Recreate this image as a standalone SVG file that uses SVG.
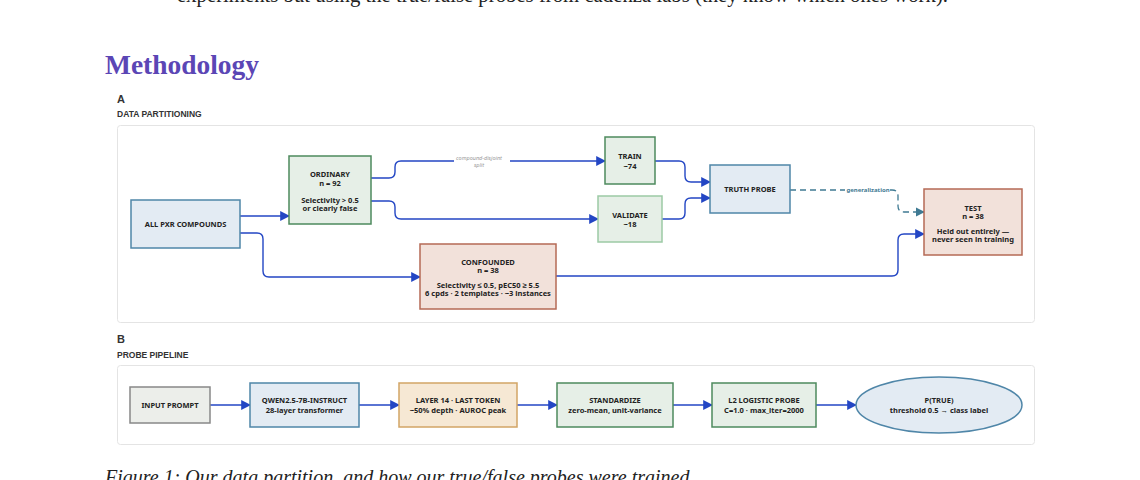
<svg xmlns="http://www.w3.org/2000/svg" width="1140" height="480" viewBox="0 0 1140 480">
<defs>
<marker id="ar" viewBox="0 0 10 10" refX="9" refY="5" markerWidth="7" markerHeight="7" orient="auto"><path d="M0,0 L10,5 L0,10 z" fill="#2346c4"/></marker>
<marker id="ard" viewBox="0 0 10 10" refX="9" refY="5" markerWidth="7" markerHeight="7" orient="auto"><path d="M0,0 L10,5 L0,10 z" fill="#3f7a93"/></marker>
<style>
.t{font-family:"Noto Sans","Liberation Sans",sans-serif;font-weight:700;font-size:7.5px;fill:#222;text-anchor:middle}
.c{fill:none;stroke:#2346c4;stroke-width:1.4;marker-end:url(#ar)}
.blue{fill:#e3ebf3;stroke:#4f86a8;stroke-width:1.5}
.green{fill:#e6efe7;stroke:#4d8a5e;stroke-width:1.5}
.lgreen{fill:#e6efe7;stroke:#9ccaa5;stroke-width:1.5}
.red{fill:#f2e1da;stroke:#b56a55;stroke-width:1.5}
.panel{fill:#fff;stroke:#e4e4e4;stroke-width:1}
.lab{font-family:"Liberation Sans",sans-serif;font-weight:700;fill:#333}
</style>
</defs>
<rect width="1140" height="480" fill="#fff"/>
<text x="177" y="2" font-family="Liberation Serif,serif" font-size="20" fill="#222" textLength="771" lengthAdjust="spacingAndGlyphs">experiments but using the true/false probes from cadenza labs (they know which ones work).</text>
<text x="105" y="74" font-family="Liberation Serif,serif" font-weight="700" font-size="28" fill="#5b46b5" textLength="154" lengthAdjust="spacingAndGlyphs">Methodology</text>
<text x="117" y="103" class="lab" font-size="11">A</text>
<text x="117" y="117" class="lab" font-size="8.5" fill="#555">DATA PARTITIONING</text>
<rect class="panel" x="117.500" y="125.500" width="917" height="197" rx="3"/>
<text x="117" y="343" class="lab" font-size="11">B</text>
<text x="117" y="358" class="lab" font-size="8.5" fill="#555">PROBE PIPELINE</text>
<rect class="panel" x="117.500" y="365.500" width="917" height="79" rx="3"/>
<g id="connectors">
<path class="c" d="M240,216 H289"/>
<path class="c" d="M240,233 H257 Q263,233 263,239 V271 Q263,277 269,277 H420"/>
<path class="c" d="M371,178 H389 Q395,178 395,172 V167 Q395,161 401,161 H454 M510,161 H605"/>
<text x="479" y="160" font-family="Noto Sans,sans-serif" font-style="italic" font-size="5.5" fill="#999" text-anchor="middle">compound-disjoint</text>
<text x="479" y="167" font-family="Noto Sans,sans-serif" font-style="italic" font-size="5.5" fill="#999" text-anchor="middle">split</text>
<path class="c" d="M371,201 H389 Q395,201 395,207 V213 Q395,219 401,219 H598"/>
<path class="c" d="M655,161 H679 Q685,161 685,167 V176 Q685,182 691,182 H710"/>
<path class="c" d="M662,219 H679 Q685,219 685,213 V204 Q685,198 691,198 H710"/>
<path d="M790,190 H845 M890,190 H892 Q898,190 898,196 V206 Q898,212 904,212 H924" fill="none" stroke="#3f7a93" stroke-width="1.3" stroke-dasharray="6,4" marker-end="url(#ard)"/>
<text x="868" y="192" font-family="Noto Sans,sans-serif" font-weight="700" font-size="6" fill="#3f7a93" text-anchor="middle">generalization</text>
<path class="c" d="M556,276 H892 Q898,276 898,270 V240 Q898,234 904,234 H924"/>
<path class="c" d="M210,405 H250"/>
<path class="c" d="M359,405 H399"/>
<path class="c" d="M517,405 H557"/>
<path class="c" d="M673,405 H712"/>
<path class="c" d="M816,405 H856"/>
</g>
<g id="all"><rect class="blue" x="131" y="200" width="109" height="48"/><text class="t" x="185.500" y="227">ALL PXR COMPOUNDS</text></g>
<g id="ordinary"><rect class="green" x="289" y="156" width="82" height="68"/><text class="t" x="330" y="177">ORDINARY</text><text class="t" x="330" y="186">n = 92</text><text class="t" x="330" y="203">Selectivity &gt; 0.5</text><text class="t" x="330" y="211">or clearly false</text></g>
<g id="train"><rect class="green" x="605" y="137" width="50" height="47"/><text class="t" x="630" y="159">TRAIN</text><text class="t" x="630" y="169">~74</text></g>
<g id="validate"><rect class="lgreen" x="598" y="196" width="64" height="46"/><text class="t" x="630" y="218">VALIDATE</text><text class="t" x="630" y="227">~18</text></g>
<g id="truth"><rect class="blue" x="710" y="165" width="80" height="48"/><text class="t" x="750" y="192">TRUTH PROBE</text></g>
<g id="test"><rect class="red" x="924" y="189" width="98" height="66"/><text class="t" x="973" y="211">TEST</text><text class="t" x="973" y="219">n = 38</text><text class="t" x="973" y="234">Held out entirely —</text><text class="t" x="973" y="242">never seen in training</text></g>
<g id="confounded"><rect class="red" x="420" y="244" width="136" height="65"/><text class="t" x="488" y="265">CONFOUNDED</text><text class="t" x="488" y="273">n = 38</text><text class="t" x="488" y="288">Selectivity ≤ 0.5, pEC50 ≥ 5.5</text><text class="t" x="488" y="296">6 cpds · 2 templates · ~3 instances</text></g>
<g id="input"><rect x="130" y="387" width="80" height="36" fill="#eceeea" stroke="#888" stroke-width="1.5"/><text class="t" x="170" y="408">INPUT PROMPT</text></g>
<g id="qwen"><rect class="blue" x="250" y="383" width="109" height="44"/><text class="t" x="304.500" y="403">QWEN2.5-7B-INSTRUCT</text><text class="t" x="304.500" y="413">28-layer transformer</text></g>
<g id="layer"><rect x="399" y="383" width="118" height="44" fill="#f6e8d4" stroke="#d2a566" stroke-width="1.5"/><text class="t" x="458" y="403">LAYER 14 · LAST TOKEN</text><text class="t" x="458" y="413">~50% depth · AUROC peak</text></g>
<g id="std"><rect class="green" x="557" y="383" width="116" height="44"/><text class="t" x="615" y="403">STANDARDIZE</text><text class="t" x="615" y="413">zero-mean, unit-variance</text></g>
<g id="l2"><rect class="green" x="712" y="383" width="104" height="44"/><text class="t" x="764" y="403">L2 LOGISTIC PROBE</text><text class="t" x="764" y="413">C=1.0 · max_iter=2000</text></g>
<g id="ptrue"><ellipse cx="939" cy="405" rx="83" ry="28" fill="#e3ebf3" stroke="#4f86a8" stroke-width="1.5"/><text class="t" x="939" y="403">P(TRUE)</text><text class="t" x="939" y="413">threshold 0.5 → class label</text></g>
<text x="105" y="484" font-family="Liberation Serif,serif" font-style="italic" font-size="20" fill="#222">Figure 1: Our data partition, and how our true/false probes were trained.</text>
</svg>
